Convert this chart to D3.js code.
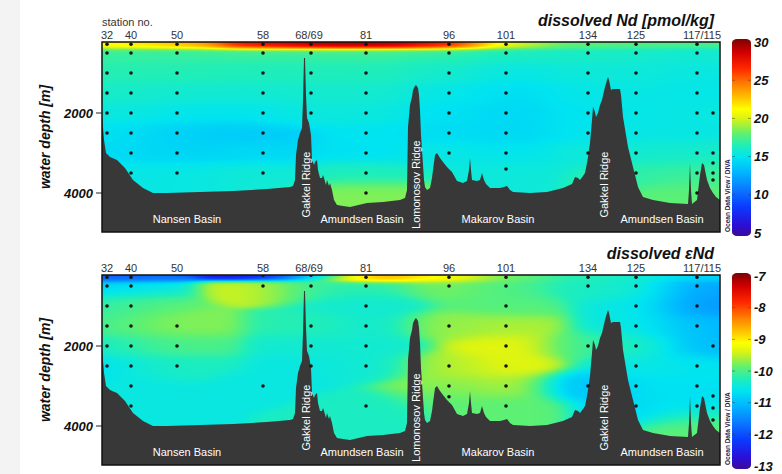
<!DOCTYPE html>
<html>
<head>
<meta charset="utf-8">
<script src="https://cdn.jsdelivr.net/npm/d3@7"></script>
<style>
  html, body { margin: 0; padding: 0; background: #fff; }
  svg { display: block; font-family: Arial, "Liberation Sans", sans-serif; }
</style>
</head>
<body>
<svg id="chart" width="782" height="474"></svg>
<script>
// ---------------- data ----------------
// Stations along the section: name and distance along the section (km)
const stationNames = ["32", "40", "50", "58", "68/69", "81", "96", "101", "134", "125", "117", "115"];
const stationKm    = [25, 145, 375, 805, 1045, 1320, 1735, 2020, 2430, 2670, 2975, 3055];

// Station labels printed above each panel
const stationLabels   = ["32", "40", "50", "58", "68/69", "81", "96", "101", "134", "125", "117/115"];
const stationLabelKm  = [25, 145, 375, 805, 1035, 1320, 1735, 2020, 2430, 2670, 3000];

// Dissolved Nd [pmol/kg]: sample depths (m) and values, one row per station
const ndDepths = [
  [100, 500, 1000, 1500, 2000, 2500],
  [100, 500, 1000, 1500, 2000, 2500, 3000, 3500],
  [100, 500, 1000, 1500, 2000, 2500, 3000, 3500],
  [100, 500, 1000, 1500, 2000, 2500, 3000, 3500],
  [100, 500, 1000, 1500, 2000],
  [100, 500, 1000, 1500, 2000, 2500, 3000, 3500, 4000],
  [100, 500, 1000, 1500, 2000, 2500, 3000],
  [100, 500, 1000, 1500, 2000, 2500, 3000, 3400],
  [100, 500, 1000, 1500, 2000, 2500, 3000],
  [100, 500, 1000, 1500, 2000, 2500, 3000, 3500],
  [100, 500, 1000, 1500, 2000, 2500, 3000, 3500, 4000],
  [2000, 3000, 3250, 3500, 3675]
];
const ndValues = [
  [21.0, 17.0, 16.6, 16.1, 15.6, 15.0],
  [21.5, 17.0, 16.6, 16.0, 15.4, 14.6, 14.6, 15.3],
  [23.0, 17.0, 16.5, 15.8, 15.1, 14.1, 14.3, 15.4],
  [27.0, 17.0, 16.4, 15.8, 15.1, 14.0, 14.5, 15.7],
  [29.0, 17.0, 16.4, 15.9, 15.6],
  [29.0, 17.0, 16.4, 15.9, 15.5, 15.0, 14.9, 16.4, 18.5],
  [27.5, 16.8, 16.0, 15.3, 14.9, 14.7, 15.4],
  [19.5, 16.2, 15.3, 14.7, 14.5, 14.5, 15.0, 15.6],
  [17.8, 16.2, 15.6, 15.2, 15.0, 15.0, 15.6],
  [17.6, 16.0, 15.6, 15.4, 15.3, 15.4, 15.9, 16.8],
  [17.4, 15.8, 15.4, 15.2, 15.2, 15.3, 15.8, 16.9, 17.9],
  [15.6, 16.0, 16.6, 17.1, 17.7]
];

// Dissolved εNd: sample depths (m) and values, one row per station
const endDepths = [
  [100, 500, 1000, 1500, 2000, 2500],
  [100, 500, 1000, 1500, 2000, 2500, 3000, 3500],
  [1500, 2000, 2500],
  [10, 500, 3000],
  [10, 500, 1500, 2000, 2500],
  [100, 500, 1000, 1500, 2000, 2500, 3500],
  [100, 500, 1500, 2500, 3000, 3270],
  [100, 500, 1000, 1500, 2000, 2500, 3000, 3500],
  [100, 500, 2000, 3000],
  [100, 500, 1000, 1500, 2000, 2500, 3000, 3500],
  [100, 500, 1000, 1500, 2500, 3000, 3500],
  [2000, 3250, 3550, 3850]
];
const endValues = [
  [-11.9, -10.9, -10.3, -10.2, -10.5, -10.8],
  [-11.6, -10.4, -9.85, -9.75, -10.0, -10.3, -10.5, -10.5],
  [-9.75, -10.0, -10.3],
  [-12.6, -9.45, -10.5],
  [-10.8, -10.2, -10.2, -10.4, -10.5],
  [-8.6, -10.2, -10.4, -10.4, -10.4, -10.4, -10.3],
  [-9.1, -9.8, -9.7, -9.6, -9.7, -9.9],
  [-9.9, -10.0, -9.95, -9.6, -9.35, -9.35, -9.6, -9.9],
  [-10.2, -10.3, -10.0, -11.0],
  [-10.4, -10.4, -10.5, -10.5, -10.4, -10.5, -10.6, -10.7],
  [-10.8, -11.2, -11.3, -11.0, -10.6, -10.6, -10.6],
  [-11.0, -10.7, -10.5, -9.9]
];

// Seafloor along the section: distance (km) and depth (m)
const bathyKm = [0, 10, 20, 40, 75, 115, 155, 205, 255, 325, 490, 655, 825, 940, 955, 965, 970, 980, 990, 1000,
  1005, 1010, 1015, 1020, 1025, 1035, 1045, 1050, 1060, 1065, 1075, 1080, 1090, 1100, 1105, 1110, 1120, 1125, 1135, 1140,
  1150, 1160, 1175, 1205, 1240, 1325, 1405, 1490, 1515, 1525, 1530, 1540, 1550, 1555, 1565, 1570, 1580, 1585, 1590, 1595,
  1600, 1610, 1615, 1625, 1640, 1650, 1655, 1665, 1675, 1690, 1705, 1725, 1750, 1775, 1805, 1825, 1835, 1840, 1845, 1850,
  1875, 1890, 1900, 1910, 1920, 1940, 1990, 2010, 2025, 2040, 2055, 2140, 2225, 2305, 2350, 2365, 2380, 2390, 2405, 2415,
  2425, 2430, 2440, 2450, 2455, 2465, 2470, 2480, 2490, 2500, 2515, 2525, 2530, 2535, 2545, 2555, 2590, 2595, 2605, 2630,
  2655, 2680, 2705, 2755, 2840, 2930, 2935, 2940, 2945, 2950, 2975, 2990, 3000, 3010, 3025, 3040, 3055, 3070, 3090];
const bathyDepth = [2050, 2675, 3000, 3100, 3175, 3375, 3675, 3875, 4000, 4000, 3975, 3950, 3900, 3850, 3825, 3675, 3050, 2675, 2500, 2375,
  1675, 625, 625, 1550, 2125, 2250, 2550, 3175, 3300, 3225, 3175, 3425, 3625, 3625, 3550, 3625, 3800, 3675, 3825, 3750,
  3925, 4175, 4300, 4325, 4350, 4250, 4225, 4175, 4125, 3925, 2350, 1800, 1600, 1425, 1325, 1300, 1375, 1550, 1925, 2550,
  2925, 3675, 3850, 3925, 3875, 3625, 3425, 3050, 3000, 3125, 3225, 3350, 3475, 3700, 3750, 3700, 3425, 3125, 3425, 3675,
  3700, 3675, 3500, 3675, 3775, 3875, 3875, 3850, 3825, 3925, 3975, 4000, 3975, 3875, 3775, 3600, 3625, 3675, 3575, 3500,
  3250, 3100, 2750, 2175, 1850, 1975, 2100, 2000, 1800, 1675, 1350, 1175, 1100, 1175, 1425, 1400, 1400, 1550, 2100, 2850,
  3350, 3850, 4100, 4175, 4250, 4275, 3925, 3250, 3925, 4275, 4175, 3550, 3250, 3300, 3675, 3875, 4000, 4100, 4175];

// Names of the basins and ridges crossed by the section (km)
const basinNames = ["Nansen Basin", "Amundsen Basin", "Makarov Basin", "Amundsen Basin"];
const basinKm    = [425, 1300, 1980, 2800];
const ridgeNames = ["Gakkel Ridge", "Lomonosov Ridge", "Gakkel Ridge"];
const ridgeKm    = [1040, 1590, 2530];

// Axis and colour bar ticks
const depthTicks = [2000, 4000];
const ndBarTicks  = [30, 25, 20, 15, 10, 5];
const endBarTicks = [-7, -8, -9, -10, -11, -12, -13];

// ---------------- layout ----------------
const svg = d3.select("#chart");
const left = 102, W = 618, H = 190;
const x = d3.scaleLinear().domain([0, 3090]).range([0, W]);
// depth axis: compressed surface layer, linear below 500 m
const y = d3.scaleLinear().domain([0, 500, 4975]).range([0, 11, H]);

// ODV-like rainbow palette, positions along the colour bar (0 = bottom)
const palT = [0, 0.06, 0.15, 0.25, 0.33, 0.40, 0.46, 0.52, 0.565, 0.60, 0.645, 0.70, 0.77, 0.85, 0.93, 1];
const palC = ["#3c0a9c", "#2a10d8", "#0a3cff", "#0a82ff", "#00baff", "#00e4f0", "#20eeb8", "#60f070",
              "#a8f038", "#dcf412", "#ffff00", "#ffc400", "#ff8000", "#ff2800", "#d40000", "#800000"];

svg.append("rect").attr("width", 782).attr("height", 474).attr("fill", "#fff");
svg.append("rect").attr("width", 20).attr("height", 474).attr("fill", "#f3f3f3");

const defs = svg.append("defs");

// vertical coordinate used for gridding: one unit per sampling level
const rowCoord = d => d < 500 ? (d - 100) / 400 : 1 + (d - 500) / 500;
const LX = 220, LR = 0.55;

function gridField(depths, values, color) {
  const sx = [], sr = [], sv = [];
  depths.forEach((ds, i) => ds.forEach((d, j) => {
    sx.push(stationKm[i]); sr.push(rowCoord(d)); sv.push(values[i][j]);
  }));
  const n = sx.length;
  const canvas = document.createElement("canvas");
  canvas.width = W; canvas.height = H;
  const ctx = canvas.getContext("2d");
  const img = ctx.createImageData(W, H);
  const ey = new Float64Array(n), e = new Float64Array(n);
  for (let py = 0; py < H; py++) {
    const r = rowCoord(y.invert(py + 0.5));
    for (let i = 0; i < n; i++) ey[i] = ((r - sr[i]) / LR) ** 2;
    for (let px = 0; px < W; px++) {
      const km = x.invert(px + 0.5);
      let emin = Infinity;
      for (let i = 0; i < n; i++) {
        const v = ((km - sx[i]) / LX) ** 2 + ey[i];
        e[i] = v; if (v < emin) emin = v;
      }
      let sw = 0, s = 0;
      for (let i = 0; i < n; i++) {
        const de = e[i] - emin;
        if (de < 30) { const w = Math.exp(-de); sw += w; s += w * sv[i]; }
      }
      const c = d3.rgb(color(s / sw));
      const k = (py * W + px) * 4;
      img.data[k] = c.r; img.data[k + 1] = c.g; img.data[k + 2] = c.b; img.data[k + 3] = 255;
    }
  }
  ctx.putImageData(img, 0, 0);
  return canvas.toDataURL();
}

const panels = [
  { top: 42, depths: ndDepths, values: ndValues, title: "dissolved Nd [pmol/kg]",
    domain: [5, 30], ticks: ndBarTicks, bar: [233, 42], header: true },
  { top: 275, depths: endDepths, values: endValues, title: "dissolved \u03b5Nd",
    domain: [-13, -7], ticks: endBarTicks, bar: [466, 276], header: false }
];

panels.forEach((p, pi) => {
  const [lo, hi] = p.domain;
  const color = d3.scaleLinear().domain(palT.map(t => lo + t * (hi - lo))).range(palC).clamp(true);

  const g = svg.append("g").attr("transform", `translate(${left},${p.top})`);
  const clipId = "clip" + pi;
  defs.append("clipPath").attr("id", clipId).append("rect").attr("width", W).attr("height", H);

  const body = g.append("g").attr("clip-path", `url(#${clipId})`);
  body.append("image").attr("href", gridField(p.depths, p.values, color))
    .attr("width", W).attr("height", H).attr("preserveAspectRatio", "none");

  // seafloor
  const area = d3.area().x(d => x(d[0])).y0(H).y1(d => y(d[1]));
  body.append("path").datum(d3.zip(bathyKm, bathyDepth)).attr("d", area).attr("fill", "#383838");

  // sample positions
  p.depths.forEach((ds, i) => {
    body.selectAll(null).data(ds).join("circle")
      .attr("cx", x(stationKm[i])).attr("cy", d => y(d)).attr("r", 1.8).attr("fill", "#151515");
  });

  // basin and ridge names
  const labelDepth = 4750, ridgeDepth = 3790;
  body.selectAll(null).data(basinNames).join("text")
    .attr("x", (d, i) => x(basinKm[i])).attr("y", y(labelDepth))
    .attr("text-anchor", "middle").attr("fill", "#fff").attr("font-size", 11).text(d => d);
  body.selectAll(null).data(ridgeNames).join("text")
    .attr("transform", (d, i) => `translate(${x(ridgeKm[i])},${y(ridgeDepth)}) rotate(-90)`)
    .attr("text-anchor", "middle").attr("fill", "#fff").attr("font-size", 11).text(d => d);

  // frame
  g.append("rect").attr("width", W).attr("height", H).attr("fill", "none")
    .attr("stroke", "#111").attr("stroke-width", 1.5);

  // depth axis
  g.selectAll(null).data(depthTicks).join("line")
    .attr("x1", -6).attr("x2", 0).attr("y1", d => y(d)).attr("y2", d => y(d))
    .attr("stroke", "#222").attr("stroke-width", 1);
  g.selectAll(null).data(depthTicks).join("text")
    .attr("x", -9).attr("y", d => y(d)).attr("dy", "0.36em").attr("text-anchor", "end")
    .attr("font-size", 13).attr("font-weight", "bold").attr("font-style", "italic").attr("fill", "#111")
    .text(d => d);
  svg.append("text").attr("transform", `translate(50,${p.top + H / 2}) rotate(-90)`)
    .attr("text-anchor", "middle").attr("font-size", 14).attr("font-weight", "bold")
    .attr("font-style", "italic").attr("fill", "#111").text("water depth [m]");

  // station labels
  g.selectAll(null).data(stationLabels).join("text")
    .attr("x", (d, i) => x(stationLabelKm[i])).attr("y", -3.5)
    .attr("text-anchor", "middle").attr("font-size", 11).attr("fill", "#333").text(d => d);
  if (p.header) {
    g.append("text").attr("x", 0).attr("y", -16).attr("font-size", 11).attr("fill", "#333").text("station no.");
  }

  // title
  svg.append("text").attr("x", 714).attr("y", p.top - 16).attr("text-anchor", "end")
    .attr("font-size", 16).attr("font-weight", "bold").attr("font-style", "italic").attr("fill", "#111")
    .text(p.title);

  // colour bar
  const cb = d3.scaleLinear().domain([lo, hi]).range(p.bar);
  const gradId = "grad" + pi;
  const grad = defs.append("linearGradient").attr("id", gradId)
    .attr("x1", 0).attr("y1", 1).attr("x2", 0).attr("y2", 0);
  palT.forEach((t, i) => grad.append("stop").attr("offset", t).attr("stop-color", palC[i]));
  svg.append("rect").attr("x", 732).attr("y", p.bar[1] - 3).attr("width", 19)
    .attr("height", p.bar[0] - p.bar[1] + 6).attr("rx", 5).attr("ry", 4)
    .attr("fill", `url(#${gradId})`);
  const cbg = svg.append("g");
  cbg.selectAll(null).data(p.ticks).join("line")
    .attr("x1", 732).attr("x2", 735).attr("y1", d => cb(d)).attr("y2", d => cb(d))
    .attr("stroke", "#333").attr("stroke-opacity", 0.45);
  cbg.selectAll(null).data(p.ticks).join("line")
    .attr("x1", 748).attr("x2", 751).attr("y1", d => cb(d)).attr("y2", d => cb(d))
    .attr("stroke", "#333").attr("stroke-opacity", 0.45);
  cbg.selectAll(null).data(p.ticks).join("text")
    .attr("x", 754).attr("y", d => cb(d)).attr("dy", "0.36em")
    .attr("font-size", 13).attr("font-weight", "bold").attr("font-style", "italic").attr("fill", "#111")
    .text(d => d);
  svg.append("text").attr("transform", `translate(730,${p.top + H}) rotate(-90)`)
    .attr("font-size", 6.5).attr("font-weight", "bold").attr("fill", "#1e1e55")
    .text("Ocean Data View / DIVA");
});
</script>
</body>
</html>
